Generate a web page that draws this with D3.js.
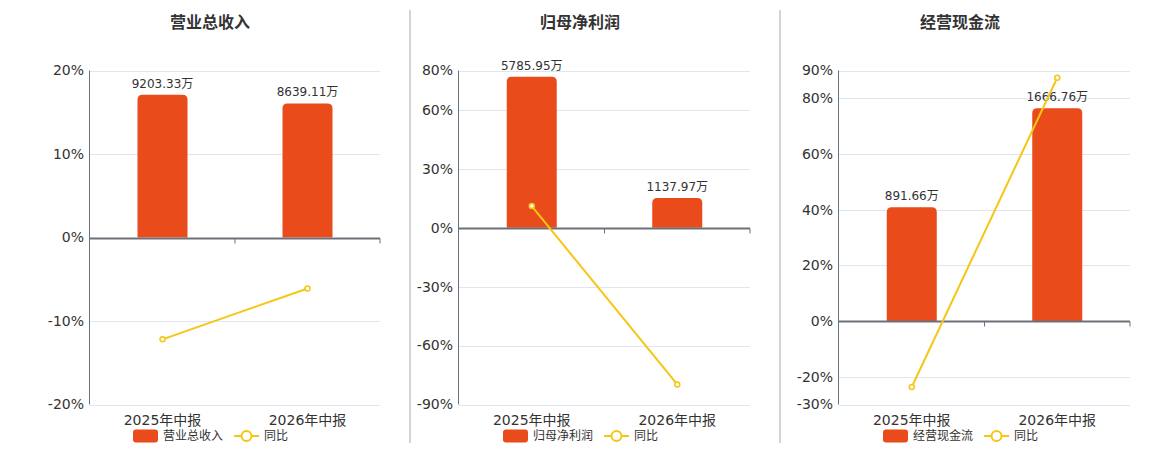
<!DOCTYPE html>
<html>
<head>
<meta charset="utf-8">
<script src="https://cdn.jsdelivr.net/npm/d3@7.9.0/dist/d3.min.js"></script>
<style>
  body { margin: 0; background: #fff; }
  svg { display: block; font-family: "DejaVu Sans", "Noto Sans CJK SC", sans-serif; }
</style>
</head>
<body>
<svg width="1160" height="450"></svg>
<script>
// data
const categories = ["2025年中报", "2026年中报"];
const titles = ["营业总收入", "归母净利润", "经营现金流"];
const revenue = [9203.33, 8639.11];
const netProfit = [5785.95, 1137.97];
const cashFlow = [891.66, 1666.76];
const revenueYoy = [-12.2, -6.1];
const netProfitYoy = [11.0, -79.8];
const cashFlowYoy = [-23.7, 87.4];
const revenueTicks = [-20, -10, 0, 10, 20];
const netProfitTicks = [-90, -60, -30, 0, 30, 60, 80];
const cashFlowTicks = [-30, -20, 0, 20, 40, 60, 80, 90];

const BAR = "#e94b1b", LINE = "#f5c614";
const svg = d3.select("svg");

const panels = [
  { title: titles[0], bars: revenue, yoy: revenueYoy, ticks: revenueTicks, barTop: 10760, left: 90, right: 380, center: 210 },
  { title: titles[1], bars: netProfit, yoy: netProfitYoy, ticks: netProfitTicks, barTop: 6030, left: 459, right: 750, center: 580 },
  { title: titles[2], bars: cashFlow, yoy: cashFlowYoy, ticks: cashFlowTicks, barTop: 1963, left: 839, right: 1130, center: 960 }
];

// separators between panels
[410, 780].forEach(x => {
  svg.append("line").attr("x1", x).attr("x2", x).attr("y1", 10).attr("y2", 443)
    .attr("stroke", "#a7a89f").attr("stroke-width", 1);
});

panels.forEach(p => {
  const top = 70.5, bottom = 404.5;
  const g = svg.append("g");
  const y = d3.scaleLinear().domain(d3.extent(p.ticks)).range([bottom, top]);
  const x = d3.scaleBand().domain(categories).range([p.left, p.right]);
  // hidden bar axis, zero aligned with the percent axis
  const y0 = y(0);
  const yBar = d3.scaleLinear().domain([0, p.barTop]).range([y0, top]);

  g.append("text").attr("x", p.center).attr("y", 28).attr("text-anchor", "middle")
    .attr("font-size", 16).attr("font-weight", "bold").attr("fill", "#333")
    .attr("font-family", "Noto Sans CJK SC").text(p.title);

  // grid
  g.selectAll(".grid").data(p.ticks.filter(t => t !== 0)).enter().append("line")
    .attr("x1", p.left).attr("x2", p.right)
    .attr("y1", d => Math.round(y(d)) + 0.5).attr("y2", d => Math.round(y(d)) + 0.5)
    .attr("stroke", "#e0e6f1");

  // y labels
  g.selectAll(".yl").data(p.ticks).enter().append("text")
    .attr("x", p.left - 6).attr("y", d => y(d)).attr("dy", "0.35em")
    .attr("text-anchor", "end").attr("font-size", 14).attr("fill", "#333")
    .text(d => d + "%");

  // y axis line
  g.append("line").attr("x1", p.left - 0.5).attr("x2", p.left - 0.5)
    .attr("y1", top).attr("y2", bottom).attr("stroke", "#6e7079");

  // bars
  const bw = 50;
  g.selectAll(".bar").data(p.bars).enter().append("path")
    .attr("fill", BAR)
    .attr("d", (d, i) => {
      const cx = x(categories[i]) + x.bandwidth() / 2;
      const x0 = cx - bw / 2, x1 = cx + bw / 2, yt = yBar(d), r = 5;
      return `M${x0},${y0}V${yt + r}Q${x0},${yt} ${x0 + r},${yt}H${x1 - r}Q${x1},${yt} ${x1},${yt + r}V${y0}Z`;
    });

  g.selectAll(".bl").data(p.bars).enter().append("text")
    .attr("x", (d, i) => x(categories[i]) + x.bandwidth() / 2)
    .attr("y", d => yBar(d) - 7).attr("text-anchor", "middle")
    .attr("font-size", 12).attr("fill", "#333")
    .text(d => d.toFixed(2) + "万");

  // x axis at zero
  const yz = Math.round(y0) + 0.5;
  g.append("line").attr("x1", p.left).attr("x2", p.right).attr("y1", yz).attr("y2", yz)
    .attr("stroke", "#6e7079").attr("stroke-width", 2);
  const bounds = [x(categories[1]), p.right];
  g.selectAll(".xt").data(bounds).enter().append("line")
    .attr("x1", d => d).attr("x2", d => d).attr("y1", yz).attr("y2", yz + 5)
    .attr("stroke", "#6e7079");

  g.selectAll(".xl").data(categories).enter().append("text")
    .attr("x", d => x(d) + x.bandwidth() / 2).attr("y", 425)
    .attr("text-anchor", "middle").attr("font-size", 14).attr("fill", "#333")
    .text(d => d);

  // yoy line
  const pts = p.yoy.map((v, i) => [x(categories[i]) + x.bandwidth() / 2, y(v)]);
  g.append("path").attr("d", d3.line()(pts)).attr("fill", "none")
    .attr("stroke", LINE).attr("stroke-width", 2);
  g.selectAll(".pt").data(pts).enter().append("circle")
    .attr("cx", d => d[0]).attr("cy", d => d[1]).attr("r", 2.5)
    .attr("fill", "#fff").attr("stroke", LINE).attr("stroke-width", 1.5);

  // legend
  const lx = p.center - 77;
  g.append("rect").attr("x", lx).attr("y", 429.5).attr("width", 25).attr("height", 13)
    .attr("rx", 3).attr("fill", BAR);
  g.append("text").attr("x", lx + 30).attr("y", 436).attr("dy", "0.35em")
    .attr("font-size", 12).attr("fill", "#333").attr("font-family", "Noto Sans CJK SC")
    .text(p.title);
  const ix = lx + 101;
  g.append("line").attr("x1", ix).attr("x2", ix + 25).attr("y1", 436).attr("y2", 436)
    .attr("stroke", LINE).attr("stroke-width", 2);
  g.append("circle").attr("cx", ix + 12.5).attr("cy", 436).attr("r", 5)
    .attr("fill", "#fff").attr("stroke", LINE).attr("stroke-width", 2);
  g.append("text").attr("x", ix + 30).attr("y", 436).attr("dy", "0.35em")
    .attr("font-size", 12).attr("fill", "#333").attr("font-family", "Noto Sans CJK SC")
    .text("同比");
});
</script>
</body>
</html>
